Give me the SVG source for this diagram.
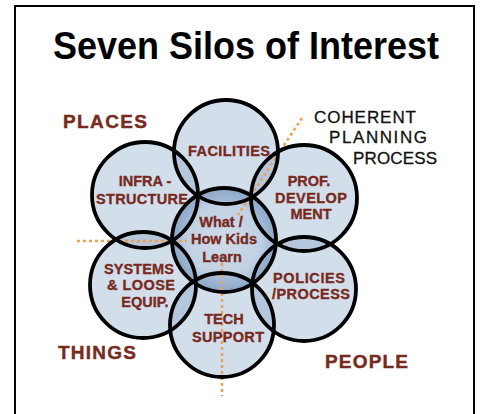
<svg xmlns="http://www.w3.org/2000/svg" width="481" height="414" viewBox="0 0 481 414">
<defs>
<radialGradient id="core" cx="0.5" cy="0.5" r="0.5">
<stop offset="0" stop-color="#6c91bc" stop-opacity="0.32"/>
<stop offset="0.7" stop-color="#6c91bc" stop-opacity="0.42"/>
<stop offset="1" stop-color="#5a80b0" stop-opacity="0.6"/>
</radialGradient>
</defs>
<style>
.fill{fill:#6c91bc;fill-opacity:0.3;stroke:none}
.ring{fill:none;stroke:#000;stroke-width:3.8}
.lbl{font-family:"Liberation Sans",Arial,sans-serif;font-weight:bold;font-size:14.5px;fill:#772a1e;stroke:#772a1e;stroke-width:0.35;text-anchor:middle}
.big{font-family:"Liberation Sans",Arial,sans-serif;font-weight:bold;font-size:19px;fill:#772b20;stroke:#772b20;stroke-width:0.4}
.hand{font-family:"Liberation Sans",Arial,sans-serif;font-size:17px;fill:#111;stroke:#111;stroke-width:0.3}
.dash{fill:none;stroke:#f0a050;stroke-width:2.5;stroke-dasharray:3 3}
</style>
<rect width="481" height="414" fill="#fff"/>
<path d="M15 414 V6 H474 V414" fill="none" stroke="#000" stroke-width="2"/>
<text x="53" y="59" font-family="'Liberation Sans',Arial,sans-serif" font-weight="bold" font-size="38" textLength="386" lengthAdjust="spacingAndGlyphs" fill="#000">Seven Silos of Interest</text>
<g id="silo-fills">
<circle class="fill" cx="226" cy="152" r="52"/>
<circle class="fill" cx="145" cy="195" r="53"/>
<circle class="fill" cx="304" cy="198" r="53"/>
<circle class="fill" cx="143" cy="285" r="53"/>
<circle class="fill" cx="304" cy="289" r="52"/>
<circle class="fill" cx="222" cy="325" r="52"/>
<circle cx="224" cy="240" r="52" fill="url(#core)"/>
</g>
<g id="connectors">
<path class="dash" d="M77 241 H187"/>
<path class="dash" d="M302 118 L238 215"/>
<path class="dash" d="M222 263 V396"/>
</g>
<g id="facilities">
<circle class="ring" cx="226" cy="152" r="52"/>
<text class="lbl" x="229" y="156" textLength="82">FACILITIES</text>
</g>
<g id="infrastructure">
<circle class="ring" cx="145" cy="195" r="53"/>
<text class="lbl" x="145" y="186">INFRA -</text>
<text class="lbl" x="142" y="204" textLength="92">STRUCTURE</text>
</g>
<g id="prof-development">
<circle class="ring" cx="304" cy="198" r="53"/>
<text class="lbl" x="309" y="186">PROF.</text>
<text class="lbl" x="311" y="203" textLength="72">DEVELOP</text>
<text class="lbl" x="311" y="219">MENT</text>
</g>
<g id="systems">
<circle class="ring" cx="143" cy="285" r="53"/>
<text class="lbl" x="139" y="274" textLength="70">SYSTEMS</text>
<text class="lbl" x="141" y="290" textLength="68">&amp; LOOSE</text>
<text class="lbl" x="145" y="307">EQUIP.</text>
</g>
<g id="policies">
<circle class="ring" cx="304" cy="289" r="52"/>
<text class="lbl" x="309" y="283" font-size="13px" textLength="72">POLICIES</text>
<text class="lbl" x="311" y="299" font-size="13px" textLength="78">/PROCESS</text>
</g>
<g id="tech-support">
<circle class="ring" cx="222" cy="325" r="52"/>
<text class="lbl" x="224" y="324">TECH</text>
<text class="lbl" x="228" y="342" textLength="72">SUPPORT</text>
</g>
<g id="kids-learn">
<circle class="ring" cx="224" cy="240" r="52"/>
<text class="lbl" x="221" y="227">What /</text>
<text class="lbl" x="224" y="244">How Kids</text>
<text class="lbl" x="222" y="262">Learn</text>
</g>
<g id="categories">
<text class="big" x="63" y="128" textLength="84">PLACES</text>
<text class="big" x="58" y="359" textLength="78">THINGS</text>
<text class="big" x="325" y="368" textLength="83">PEOPLE</text>
</g>
<g id="coherent-planning">
<text class="hand" x="314" y="123" textLength="102">COHERENT</text>
<text class="hand" x="329" y="143" textLength="98">PLANNING</text>
<text class="hand" x="353" y="164" textLength="84">PROCESS</text>
</g>
</svg>
